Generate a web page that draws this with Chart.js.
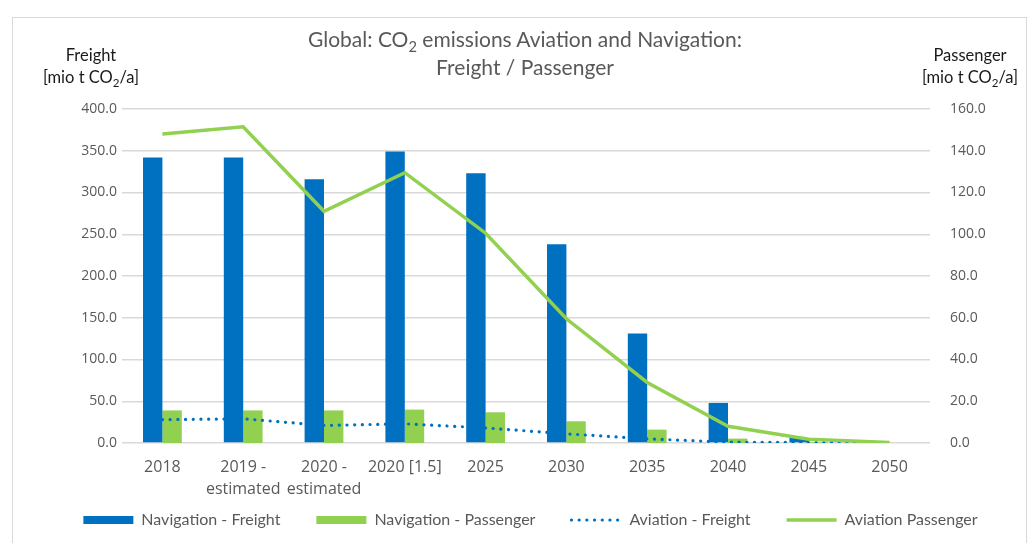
<!DOCTYPE html>
<html>
<head>
<meta charset="utf-8">
<script src="https://cdn.jsdelivr.net/npm/chart.js@4.4.1/dist/chart.umd.min.js"></script>
<style>
  body { margin: 0; background: #fff; }
  #wrap { position: relative; width: 1029px; height: 543px; overflow: hidden; }
  #frame { position: absolute; left: 12px; top: 17px; width: 1013px; height: 540px; border: 1px solid #d9d9d9; }
  canvas { position: absolute; left: 0; top: 0; }
  .txt { position: absolute; font-family: Lato, sans-serif; text-align: center; white-space: nowrap; }
  .title { left: 0; width: 1050px; top: 25px; font-size: 21px; line-height: 28px; color: #595959; }
  .ax { font-size: 16.5px; line-height: 22px; color: #1a1a1a; width: 140px; top: 44px; }
  sub { font-size: 70%; line-height: 0; }
</style>
</head>
<body>
<div id="wrap">
  <div id="frame"></div>
  <canvas id="myChart" width="1029" height="543"></canvas>
  <div class="txt title">Global: CO<sub>2</sub> emissions Aviation and Navigation:<br>Freight / Passenger</div>
  <div class="txt ax" style="left:21px">Freight<br>[mio t CO<sub>2</sub>/a]</div>
  <div class="txt ax" style="left:900px">Passenger<br>[mio t CO<sub>2</sub>/a]</div>
</div>
<script>
// categories
var years = ["2018", ["2019 -", "estimated"], ["2020 -", "estimated"], "2020 [1.5]", "2025", "2030", "2035", "2040", "2045", "2050"];
// left axis (freight), mio t CO2/a
var navFreight = [342, 342, 316, 349, 323, 238, 131, 48, 6, 0];
var avFreight = [28, 29, 21, 23, 18, 11, 5, 1, 0.5, 0];
// right axis (passenger), mio t CO2/a
var navPassenger = [15.6, 15.6, 15.6, 16.0, 14.7, 10.4, 6.4, 2.1, 0.3, 0];
var avPassenger = [148, 151.5, 111, 129.5, 100.5, 59.5, 29, 8, 1.8, 0.3];

var blue = "#0070c0";
var green = "#92d050";
var grey = "#595959";

// legend: keep dataset order, show the dotted / thick line styles,
// and widen the gap between entries (padding also sets the height)
function legendLabels(chart) {
  var items = Chart.defaults.plugins.legend.labels.generateLabels(chart);
  items.sort(function (a, b) { return a.datasetIndex - b.datasetIndex; });
  items.forEach(function (it, i) {
    var ds = chart.data.datasets[it.datasetIndex];
    if (ds.type === "line") {
      it.lineWidth = ds.borderWidth;
      it.strokeStyle = ds.borderColor;
      it.lineDash = ds.borderDash || [];
      it.lineCap = ds.borderDash ? "round" : "butt";
    } else {
      it.lineWidth = 0;
    }
    if (i < items.length - 1) it.text = it.text + "\u2003\u2002\u2005";
  });
  return items;
}

new Chart("myChart", {
  type: "bar",
  data: {
    labels: years,
    datasets: [{
      label: "Navigation - Freight",
      data: navFreight,
      backgroundColor: blue,
      yAxisID: "y",
      order: 2,
      pointStyle: "rect"
    }, {
      label: "Navigation - Passenger",
      data: navPassenger,
      backgroundColor: green,
      yAxisID: "y1",
      order: 2,
      pointStyle: "rect"
    }, {
      type: "line",
      label: "Aviation - Freight",
      data: avFreight,
      borderColor: blue,
      backgroundColor: blue,
      borderWidth: 3.2,
      borderDash: [0.1, 7.6],
      borderCapStyle: "round",
      pointRadius: 0,
      pointStyle: "line",
      yAxisID: "y",
      order: 1
    }, {
      type: "line",
      label: "Aviation Passenger",
      data: avPassenger,
      borderColor: green,
      backgroundColor: green,
      borderWidth: 3.5,
      pointRadius: 0,
      pointStyle: "line",
      yAxisID: "y1",
      order: 0
    }]
  },
  options: {
    responsive: false,
    animation: false,
    datasets: { bar: { categoryPercentage: 0.48, barPercentage: 1.0 } },
    layout: { padding: { top: 109, bottom: 5, left: 32, right: 0 } },
    plugins: {
      tooltip: { enabled: false },
      legend: {
        position: "bottom",
        labels: {
          usePointStyle: true,
          pointStyleWidth: 50,
          boxHeight: 8,
          padding: 12,
          color: grey,
          font: { family: "Lato", size: 16 },
          generateLabels: legendLabels
        }
      }
    },
    scales: {
      x: {
        grid: { display: false },
        border: { display: false },
        ticks: {
          color: grey,
          font: { family: "Open Sans", size: 16, lineHeight: 1.4 },
          padding: 5,
          maxRotation: 0,
          autoSkip: false
        },
        afterFit: function (s) { s.height = 57; }
      },
      y: {
        position: "left",
        min: 0, max: 400,
        ticks: {
          stepSize: 50,
          color: grey,
          padding: 5,
          font: { family: "Open Sans", size: 14 },
          callback: function (v) { return v.toFixed(1); }
        },
        grid: { color: "#d9d9d9", lineWidth: 1.5, drawTicks: false },
        border: { display: false },
        afterFit: function (s) { s.width = 90; }
      },
      y1: {
        position: "right",
        min: 0, max: 160,
        ticks: {
          stepSize: 20,
          color: grey,
          padding: 20,
          font: { family: "Open Sans", size: 14 },
          callback: function (v) { return v.toFixed(1); }
        },
        grid: { display: false, drawTicks: false },
        border: { display: false },
        afterFit: function (s) { s.width = 99; }
      }
    }
  }
});
</script>
</body>
</html>
